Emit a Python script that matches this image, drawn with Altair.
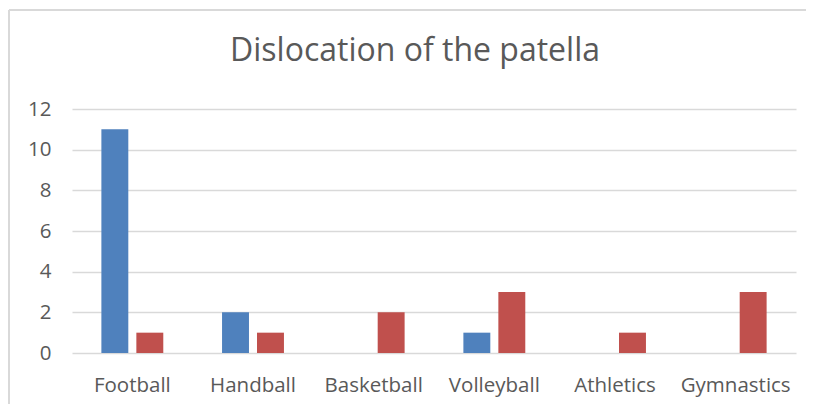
import altair as alt
import pandas as pd

categories = ["Football", "Handball", "Basketball", "Volleyball", "Athletics", "Gymnastics"]
series_names = ["Series1", "Series2"]
series1 = [11, 2, 0, 1, 0, 0]
series2 = [1, 1, 2, 3, 1, 3]
colors = ["#4f81bd", "#c0504d"]

rows = []
for c, a, b in zip(categories, series1, series2):
    rows.append({"sport": c, "series": series_names[0], "value": a})
    rows.append({"sport": c, "series": series_names[1], "value": b})
df = pd.DataFrame(rows)

FONT = "Open Sans"
GREY = "#595959"

bars = alt.Chart(df).mark_bar().encode(
    x=alt.X("sport:N", sort=categories,
            scale=alt.Scale(paddingInner=0, paddingOuter=0),
            axis=alt.Axis(title=None, labelAngle=0, ticks=False, domain=False,
                          labelFontSize=20.5, labelColor=GREY, labelFont=FONT,
                          labelPadding=22)),
    xOffset=alt.XOffset("series:N", sort=series_names,
                        scale=alt.Scale(paddingInner=0.23, paddingOuter=0.84)),
    y=alt.Y("value:Q", scale=alt.Scale(domain=[0, 12]),
            axis=alt.Axis(title=None, values=[0, 2, 4, 6, 8, 10, 12], ticks=False,
                          domain=False, gridColor="#d9d9d9", gridWidth=1.5,
                          labelFontSize=20.5, labelColor=GREY, labelFont=FONT,
                          labelPadding=21)),
    color=alt.Color("series:N", sort=series_names,
                    scale=alt.Scale(domain=series_names, range=colors), legend=None),
)

frame_df = pd.DataFrame({"k": [0]})
left_line = alt.Chart(frame_df).mark_rule(color="#d9d9d9", strokeWidth=2).encode(
    x=alt.value(-63), y=alt.value(-99), y2=alt.value(320))
top_line = alt.Chart(frame_df).mark_rule(color="#d9d9d9", strokeWidth=2).encode(
    x=alt.value(-63), x2=alt.value(740), y=alt.value(-99))

chart = alt.layer(bars, left_line, top_line).properties(
    width=724, height=244,
    title=alt.TitleParams("Dislocation of the patella", fontSize=32, font=FONT,
                          fontWeight="normal", color=GREY, anchor="middle",
                          frame="group", dx=-19, baseline="alphabetic", offset=-84),
    autosize=alt.AutoSizeParams(type="none"),
    padding={"left": 64, "top": 101, "right": 10, "bottom": 51},
).configure_view(stroke=None)

chart.save("out.html", embed_options={"renderer": "svg", "actions": False})
